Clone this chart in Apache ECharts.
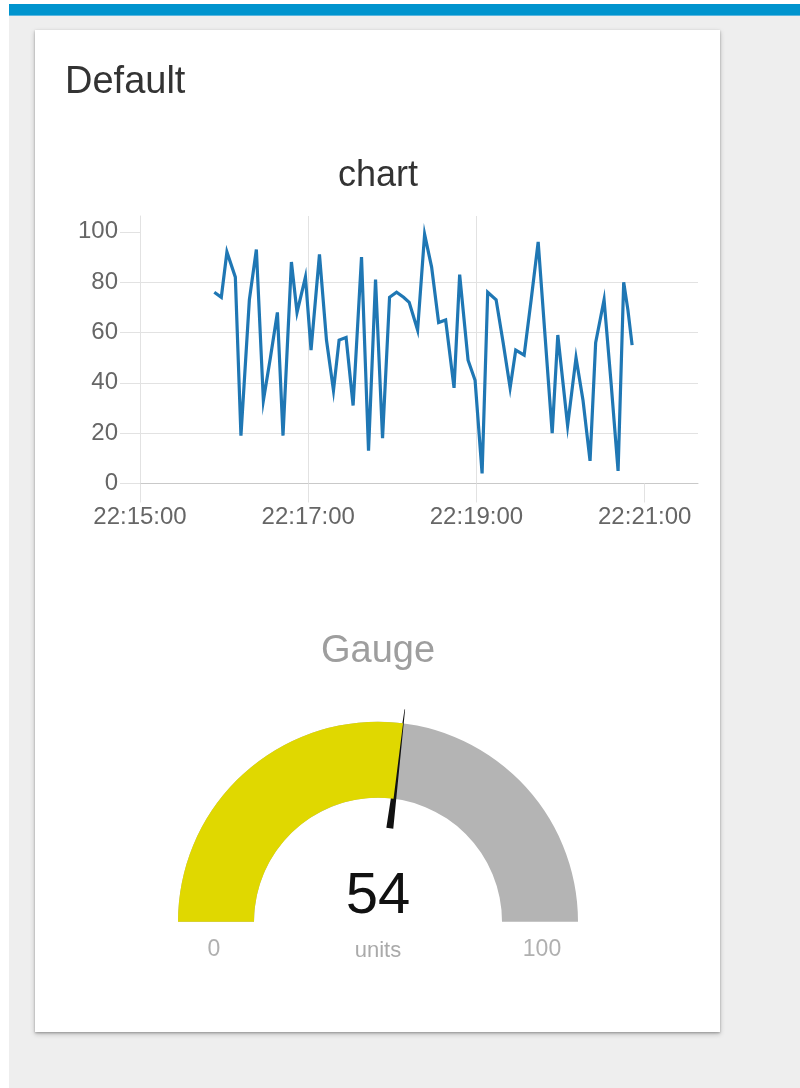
<!DOCTYPE html>
<html>
<head>
<meta charset="utf-8">
<script src="https://cdn.jsdelivr.net/npm/echarts@6/dist/echarts.min.js"></script>
<style>
  html, body { margin: 0; padding: 0; width: 800px; height: 1088px; background: #ffffff; overflow: hidden; }
  #bg { position: absolute; left: 9px; top: 4px; right: 0; bottom: 0; background: #eeeeee; }
  #bar { position: absolute; left: 9px; top: 4px; right: 0; height: 11px; background: #0094ce; border-bottom: 1px solid #5ab6df; }
  #card { position: absolute; left: 35px; top: 30px; width: 685px; height: 1002px; background: #ffffff;
          box-shadow: 0 1px 2px rgba(0,0,0,0.25), 0 2px 5px rgba(0,0,0,0.22); }
  #chart { position: absolute; left: 0; top: 0; width: 800px; height: 1088px; }
</style>
</head>
<body>
<div id="bg"></div>
<div id="bar"></div>
<div id="card"></div>
<div id="chart"></div>
<script>
// ---- data ----
const groupTitle = 'Default';
const chartTitle = 'chart';
const gaugeTitle = 'Gauge';
const gaugeUnits = 'units';
const axisStartTime = '22:15:00';
const times = ['22:15:53','22:15:58','22:16:02','22:16:08','22:16:12','22:16:18','22:16:23','22:16:28','22:16:33','22:16:38',
               '22:16:42','22:16:48','22:16:52','22:16:58','22:17:02','22:17:08','22:17:13','22:17:18','22:17:22','22:17:27',
               '22:17:32','22:17:38','22:17:43','22:17:48','22:17:53','22:17:58','22:18:03','22:18:08','22:18:12','22:18:18',
               '22:18:23','22:18:28','22:18:33','22:18:38','22:18:44','22:18:48','22:18:54','22:18:59','22:19:04','22:19:08',
               '22:19:14','22:19:19','22:19:24','22:19:28','22:19:34','22:19:39','22:19:44','22:19:49','22:19:54','22:19:58',
               '22:20:05','22:20:11','22:20:16','22:20:21','22:20:25','22:20:31','22:20:36','22:20:41','22:20:45','22:20:48',
               '22:20:51'];
const values = [76,74,92,82,19,73,93,33,50,68,
                19,88,68,82,53,91,57,37,57,58,
                31,90,13,81,18,74,76,74,72,61,
                99,86,64,65,38,83,49,41,4,76,
                73,56,38,53,51,73,96,58,20,59,
                23,50,33,9,56,73,40,5,80,69,
                55];
const xTickSeconds = [0, 120, 240, 360];       // 22:15:00, 22:17:00, 22:19:00, 22:21:00
const yTicks = [0, 20, 40, 60, 80, 100];
const gaugeValue = 54;
const gaugeMin = 0;
const gaugeMax = 100;

// ---- helpers ----
function toSec(s) { const p = s.split(':').map(Number); return p[0] * 3600 + p[1] * 60 + p[2]; }
const base = toSec(axisStartTime);
function fmt(sec) {
  const t = base + Math.round(sec);
  const h = Math.floor(t / 3600), m = Math.floor((t % 3600) / 60), s = t % 60;
  const pad = n => (n < 10 ? '0' : '') + n;
  return pad(h) + ':' + pad(m) + ':' + pad(s);
}
const lineData = times.map((t, i) => [toSec(t) - base, values[i]]);

const FONT = "'Liberation Sans', Arial, Helvetica, sans-serif";
const GRID_C = '#e2e2e2';

const chart = echarts.init(document.getElementById('chart'), null, { renderer: 'canvas' });
chart.setOption({
  animation: false,
  textStyle: { fontFamily: FONT },
  graphic: [
    { type: 'text', left: 65, top: 64, style: { text: groupTitle, font: '38px ' + FONT, fill: '#333333' } },
    { type: 'text', x: 378, y: 176, style: { text: chartTitle, font: '36px ' + FONT, fill: '#333333', align: 'center', verticalAlign: 'middle' } },
    { type: 'text', x: 378, y: 652, style: { text: gaugeTitle, font: '38px ' + FONT, fill: '#9e9e9e', align: 'center', verticalAlign: 'middle' } }
  ],
  grid: { left: 140, right: 102, top: 216, bottom: 604.5, containLabel: false },
  xAxis: {
    type: 'value', min: 0, max: 398, interval: 120,
    axisLine: { show: true, lineStyle: { color: '#c9c9c9', width: 1 } },
    axisTick: { show: true, inside: false, length: 19, customValues: xTickSeconds, lineStyle: { color: GRID_C, width: 1 } },
    axisLabel: { customValues: xTickSeconds, formatter: v => fmt(v), color: '#666666', fontSize: 24, margin: 22, fontFamily: FONT },
    splitLine: { show: true, showMaxLine: false, lineStyle: { color: GRID_C, width: 1 } }
  },
  yAxis: {
    type: 'value', min: 0, max: 106.3, interval: 20,
    axisLine: { show: true, lineStyle: { color: GRID_C, width: 1 } },
    axisTick: { show: true, inside: false, length: 20, customValues: yTicks, lineStyle: { color: GRID_C, width: 1 } },
    axisLabel: { customValues: yTicks, color: '#666666', fontSize: 24, margin: 22, fontFamily: FONT },
    splitLine: { show: true, showMaxLine: false, lineStyle: { color: GRID_C, width: 1 } }
  },
  series: [
    {
      type: 'line', data: lineData, showSymbol: false, symbol: 'none', smooth: false,
      lineStyle: { color: '#1f77b4', width: 3.2, join: 'miter' }, z: 5
    },
    {
      type: 'gauge',
      center: [378, 921.7], radius: 200,
      startAngle: 180, endAngle: 0,
      min: gaugeMin, max: gaugeMax, splitNumber: 1,
      axisLine: { lineStyle: { width: 76, color: [[1, '#b4b4b4']] } },
      progress: { show: true, width: 76, itemStyle: { color: '#e0d800' } },
      pointer: {
        show: true,
        icon: 'path://M4.6 0L5.4 0L10 56L5 56L5 100L5 56L0 56Z',
        length: 214, width: 7,
        itemStyle: { color: '#111111' }
      },
      anchor: { show: false },
      axisTick: { show: false },
      splitLine: { show: false, length: 0, distance: 0 },
      axisLabel: {
        show: true, distance: 6, color: '#b0b0b0', fontSize: 23, fontFamily: FONT,
        formatter: v => '{pad|}\n{v|' + v + '}',
        rich: {
          pad: { width: 60, height: 56, lineHeight: 56 },
          v: { width: 60, align: 'center', fontSize: 23, lineHeight: 23, color: '#b0b0b0', fontFamily: FONT }
        }
      },
      title: { show: true, offsetCenter: [0, 29], fontSize: 22, color: '#aaaaaa', fontFamily: FONT },
      detail: { show: true, offsetCenter: [0, -25], fontSize: 58, fontWeight: 'normal', color: '#111111', fontFamily: FONT,
                formatter: '{value}', valueAnimation: false },
      data: [{ value: gaugeValue, name: gaugeUnits }]
    }
  ]
});
</script>
</body>
</html>
